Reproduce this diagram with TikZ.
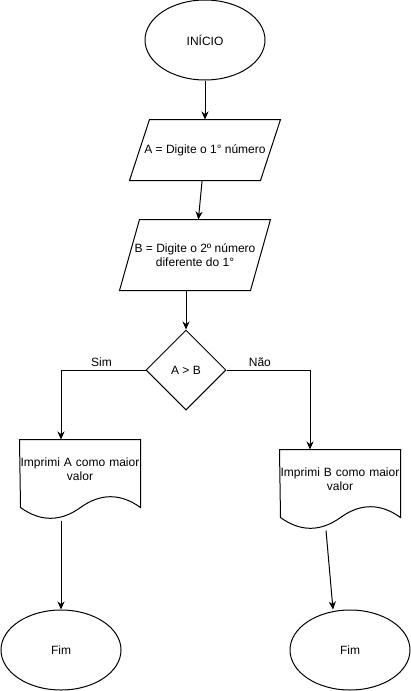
\documentclass[tikz,border=0pt]{standalone}
\usepackage{fontspec}
\setmainfont{Liberation Sans}
\usetikzlibrary{shapes.geometric, arrows.meta}

% outline of the input boxes (parallelogram)
\newcommand{\ioshape}[1]{%
  \draw ([xshift=20pt]#1.north west) -- (#1.north east)
    -- ([xshift=-20pt]#1.south east) -- (#1.south west) -- cycle;}
% outline of the print boxes (document with wavy bottom)
\newcommand{\docshape}[1]{%
  \draw (#1.north west) -- (#1.north east) -- ++(0,68)
    .. controls +(-20,-14.4) and +(20,-14.4) .. ++(-60,0)
    .. controls +(-20,14.4) and +(20,14.4) .. ++(-60,0) -- cycle;}

\begin{document}
\begin{tikzpicture}[
    x=1pt, y=-1pt, line width=1pt,
    font=\fontsize{12}{14}\selectfont,
    term/.style={ellipse, draw, minimum width=120pt, minimum height=80pt, inner sep=0pt},
    iobox/.style={rectangle, minimum width=150pt, inner sep=0pt, align=center},
    dec/.style={diamond, draw, minimum width=80pt, minimum height=80pt, inner sep=0pt},
    docbox/.style={rectangle, minimum width=120pt, minimum height=80pt, inner ysep=0pt,
                   inner xsep=-4pt, text width=128pt, align=center, text depth=35pt},
    arr/.style={-{Stealth[length=8pt, width=7pt, inset=2.5pt]}},
]
    \useasboundingbox (0,0) rectangle (411,691);

    \node[term] (inicio) at (205,40) {INÍCIO};
    \node[iobox, minimum height=60pt] (num1) at (205,150) {A = Digite o 1° número};
    \node[iobox, minimum height=70pt] (num2) at (195,255) {B = Digite o 2º número\\diferente do 1°};
    \node[dec] (teste) at (186,370) {A > B};
    \node[docbox] (maiorA) at (80,480) {Imprimi A como maior\\valor};
    \node[docbox] (maiorB) at (340,490) {Imprimi B como maior\\valor};
    \node[term] (fimA) at (61,650) {Fim};
    \node[term] (fimB) at (350,650) {Fim};

    \ioshape{num1}
    \ioshape{num2}
    \docshape{maiorA}
    \docshape{maiorB}

    \draw[arr] (inicio) -- (num1);
    \draw[arr] (num1) -- (num2);
    \draw[arr] (num2.south -| teste.north) -- (teste.north);
    \draw[arr] (teste.west) -| node[above, pos=0.26] {Sim} (fimA |- maiorA.north);
    \draw[arr] (teste.east) -| node[above, pos=0.2] {Não} ([xshift=-30pt]maiorB.north);
    \draw[arr] (maiorA.south -| fimA) -- (fimA);
    \draw[arr] ([xshift=-14pt]maiorB.south) -- ([xshift=-17pt]fimB.north);
\end{tikzpicture}
\end{document}
